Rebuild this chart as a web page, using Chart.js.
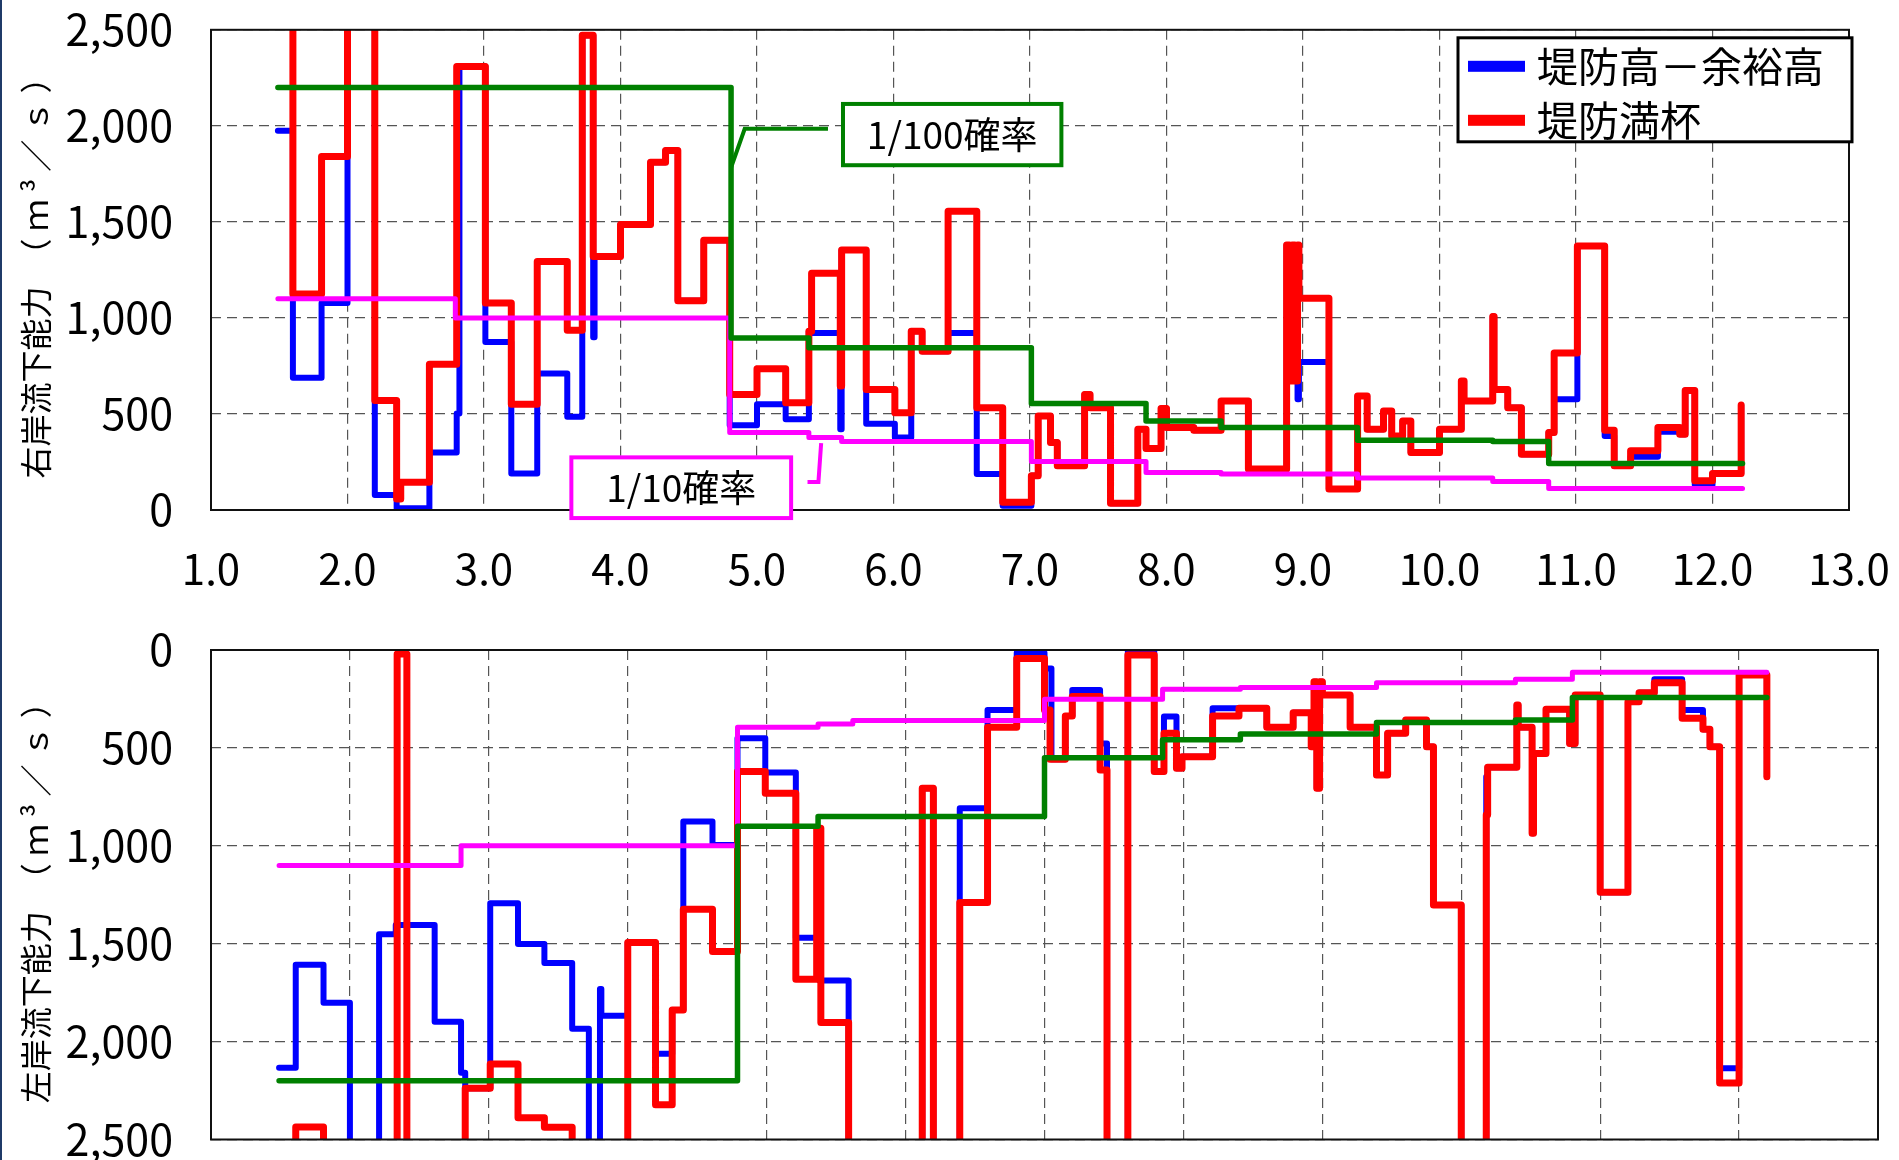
<!DOCTYPE html>
<html lang="ja">
<head>
<meta charset="utf-8">
<title>流下能力図</title>
<script src="https://cdn.jsdelivr.net/npm/chart.js@4.4.1/dist/chart.umd.min.js"></script>
<style>
  html, body { margin: 0; padding: 0; background: #fff; overflow: hidden; }
  body { width: 1899px; height: 1160px; position: relative; }
  #edge { position: absolute; left: 0; top: 0; width: 2px; height: 1160px; background: #1f3a68; z-index: 2; }
  .box { position: absolute; left: 0; width: 1899px; }
  #topBox { top: 0; height: 620px; }
  #bottomBox { top: 620px; height: 560px; }
</style>
</head>
<body>
<div id="edge"></div>
<div class="box" id="topBox"><canvas id="topChart"></canvas></div>
<div class="box" id="bottomBox"><canvas id="bottomChart"></canvas></div>
<script>
// 距離標(km)ごとの流下能力(m3/s)。値は次の距離標まで続く階段。2700 は軸の外
const rightRedX = [1.49,1.60,1.81,2.00,2.20,2.36,2.39,2.60,2.80,3.01,3.20,3.39,3.61,3.72,3.80,4.00,4.22,4.33,4.42,4.61,4.80,5.00,5.21,5.38,5.40,5.61,5.62,5.80,6.01,6.13,6.21,6.40,6.61,6.80,7.01,7.06,7.15,7.20,7.40,7.44,7.59,7.79,7.85,7.96,8.00,8.20,8.40,8.60,8.88,8.90,8.92,8.94,8.96,8.97,9.19,9.40,9.47,9.59,9.65,9.73,9.79,10.00,10.16,10.18,10.39,10.40,10.50,10.60,10.80,10.84,11.01,11.21,11.28,11.40,11.60,11.76,11.80,11.87,12.00,12.21];
const rightRedY = [2700,1125,1840,2700,570,57,144,759,2309,1078,551,1294,936,2472,1320,1486,1811,1872,1089,1405,601,735,558,930,1232,645,1353,627,506,930,826,1555,532,40,178,489,351,230,601,532,35,420,320,529,429,415,567,213,1379,671,1379,671,1379,1103,109,593,420,515,385,463,299,420,671,567,1008,627,532,290,403,818,1374,415,230,308,429,394,622,152,190,546];

const rightBlueX = [1.49,1.60,1.81,2.00,2.20,2.36,2.60,2.80,2.82,3.01,3.20,3.39,3.61,3.72,3.80,3.81,4.00,4.22,4.33,4.42,4.61,4.80,5.00,5.21,5.38,5.40,5.61,5.62,5.80,6.01,6.13,6.21,6.40,6.61,6.80,7.01,7.06,7.15,7.20,7.40,7.44,7.59,7.79,7.85,7.96,8.00,8.20,8.40,8.60,8.88,8.90,8.92,8.94,8.96,8.97,9.19,9.40,9.47,9.59,9.65,9.73,9.79,10.00,10.16,10.18,10.39,10.40,10.50,10.60,10.80,10.84,11.01,11.21,11.28,11.40,11.60,11.76,11.80,11.87,12.00,12.21];
const rightBlueY = [1975,688,1078,2700,78,9,300,502,2309,875,190,710,485,2472,900,1320,1486,1811,1872,1089,1405,441,550,472,930,921,420,1353,449,377,930,826,921,187,22,178,489,351,230,601,532,35,420,320,529,429,415,567,213,1379,671,1379,671,576,771,109,593,420,515,385,463,299,420,671,567,1008,627,532,290,403,576,1374,385,230,277,408,394,622,131,190,546];

const rightP100X = [1.49,4.81,5.38,7.01,7.85,8.40,9.40,10.39,10.80,12.22];
const rightP100Y = [2200,895,845,555,463,430,363,356,242,242];
const rightP10X = [1.49,2.79,4.80,5.38,5.62,7.01,7.85,8.40,9.40,10.39,10.80,12.22];
const rightP10Y = [1100,1000,403,377,356,252,195,187,166,149,112,112];

const leftRedX = [1.49,1.61,1.81,2.34,2.41,2.83,3.01,3.21,3.40,3.60,4.00,4.20,4.32,4.40,4.61,4.79,4.99,5.21,5.36,5.39,5.59,6.12,6.20,6.39,6.59,6.80,7.00,7.04,7.15,7.20,7.40,7.45,7.60,7.79,7.86,7.95,7.99,8.21,8.40,8.60,8.79,8.92,8.94,8.96,8.98,9.00,9.20,9.39,9.47,9.60,9.75,9.80,10.00,10.18,10.19,10.40,10.41,10.51,10.52,10.61,10.78,10.82,11.00,11.20,11.28,11.39,11.59,11.74,11.79,11.86,12.00,12.20];
const leftRedY = [2700,2436,2700,21,2700,2238,2115,2389,2438,2700,1494,2323,1838,1324,1540,621,732,1681,910,1903,2700,706,2700,1290,395,43,306,558,337,238,613,2700,26,621,425,604,545,337,298,395,320,494,162,706,162,230,395,638,425,357,494,1302,2700,842,599,281,395,936,528,303,477,230,1237,264,218,167,349,405,494,2212,128,647];

const leftBlueX = [1.49,1.61,1.81,2.00,2.21,2.33,2.61,2.80,2.83,3.01,3.21,3.40,3.60,3.72,3.80,3.81,4.00,4.20,4.32,4.40,4.61,4.79,4.99,5.21,5.38,5.59,6.12,6.20,6.39,6.59,6.80,7.00,7.05,7.15,7.20,7.40,7.45,7.60,7.79,7.86,7.95,7.99,8.21,8.60,8.79,8.92,8.94,8.96,8.98,9.00,9.20,9.39,9.47,9.60,9.75,9.80,10.00,10.18,10.19,10.40,10.41,10.51,10.52,10.61,10.78,10.82,11.00,11.20,11.28,11.39,11.59,11.74,11.79,11.86,12.00,12.20];
const leftBlueY = [2133,1608,1802,2700,1452,1405,1899,2159,2238,1293,1502,1599,1935,2700,1731,1868,1494,2062,1838,876,996,451,626,1469,1688,2700,706,2700,808,306,14,94,558,337,204,477,2700,5,621,340,604,545,298,395,320,440,162,706,162,230,395,638,425,357,494,1302,2700,647,599,281,395,936,528,303,477,230,1237,264,218,150,306,405,494,2136,128,647];

const leftP100X = [1.49,4.79,5.37,7.00,7.85,8.41,9.39,10.39,10.80,12.20];
const leftP100Y = [2200,900,850,550,459,429,370,357,242,242];
const leftP10X = [1.49,2.80,4.79,5.37,5.62,7.00,7.85,8.41,9.39,10.39,10.80,12.20];
const leftP10Y = [1100,1000,395,378,360,252,201,191,167,150,114,114];

const legendNames = ['堤防高－余裕高', '堤防満杯'];

const FONT = '"Noto Sans CJK JP", "Noto Sans", sans-serif';
const RED = '#ff0000', BLUE = '#0000ff', GREEN = '#008000', PINK = '#ff00ff';

function steps(xs, ys) {
    return xs.map((x, i) => ({ x: x, y: ys[i] }));
}

function series(label, xs, ys, color, width, order) {
    return {
        label, data: steps(xs, ys), borderColor: color, backgroundColor: color,
        borderWidth: width, stepped: true, pointRadius: 0, fill: false, order,
        clip: 0, borderJoinStyle: 'round', borderCapStyle: 'round'
    };
}

// 枠、凡例、確率ラベルを描くプラグイン
const decor = {
    id: 'decor',
    afterDraw(chart, args, opts) {
        const { ctx, chartArea: a } = chart;
        const sx = chart.scales.x, sy = chart.scales.y;
        ctx.save();
        ctx.lineWidth = 2;
        ctx.strokeStyle = '#111';
        ctx.strokeRect(a.left, a.top, a.right - a.left, a.bottom - a.top);

        (opts.notes || []).forEach(n => {
            ctx.strokeStyle = n.color;
            ctx.lineWidth = 4;
            ctx.lineJoin = 'miter';
            ctx.beginPath();
            n.path.forEach((p, i) => {
                const px = sx.getPixelForValue(p[0]), py = sy.getPixelForValue(p[1]);
                if (i === 0) ctx.moveTo(px, py); else ctx.lineTo(px, py);
            });
            ctx.stroke();
            const x0 = sx.getPixelForValue(n.x0), x1 = sx.getPixelForValue(n.x1);
            const y0 = sy.getPixelForValue(n.y0), y1 = sy.getPixelForValue(n.y1);
            ctx.fillStyle = '#fff';
            ctx.fillRect(x0, y0, x1 - x0, y1 - y0);
            ctx.strokeRect(x0, y0, x1 - x0, y1 - y0);
            ctx.fillStyle = '#000';
            ctx.font = '37px ' + FONT;
            ctx.textAlign = 'center';
            ctx.textBaseline = 'middle';
            ctx.fillText(n.text, (x0 + x1) / 2, (y0 + y1) / 2);
        });

        if (opts.legend) {
            const bx = a.right - 391, by = a.top + 8;
            ctx.fillStyle = '#fff';
            ctx.fillRect(bx, by, 394, 104);
            ctx.lineWidth = 3;
            ctx.strokeStyle = '#000';
            ctx.strokeRect(bx, by, 394, 104);
            [BLUE, RED].forEach((c, i) => {
                const cy = a.top + 37 + i * 54;
                ctx.fillStyle = c;
                ctx.fillRect(bx + 10, cy - 6, 57, 11);
                ctx.fillStyle = '#000';
                ctx.font = '41px ' + FONT;
                ctx.textAlign = 'left';
                ctx.textBaseline = 'middle';
                ctx.fillText(legendNames[i], bx + 79, cy);
            });
        }
        ctx.restore();
    }
};

// 目盛線の破線は border.dash、ラベルの位置は透明な tick の長さで調整
function yAxis(title, reverse) {
    return {
        min: 0, max: 2500, reverse,
        ticks: { stepSize: 500, padding: 4, color: '#000', font: { size: 43, family: FONT },
                 callback: v => v.toLocaleString('en-US') },
        grid: { color: '#555', lineWidth: 1.2, drawTicks: true, tickLength: 34, tickColor: 'rgba(0,0,0,0)' },
        border: { display: false, dash: [10, 6] },
        title: { display: true, text: title, color: '#000', font: { size: 32, family: FONT },
                 padding: { top: 17, bottom: 0 } },
        afterFit: s => { s.width = 211; }
    };
}

function xAxis(showLabels, h) {
    return {
        type: 'linear', min: 1, max: 13,
        ticks: { display: showLabels, stepSize: 1, padding: 4, color: '#000', maxRotation: 0,
                 autoSkip: false, font: { size: 42, family: FONT }, callback: v => v.toFixed(1) },
        grid: { color: '#555', lineWidth: 1.2, drawTicks: true, tickLength: 30, tickColor: 'rgba(0,0,0,0)' },
        border: { display: false, dash: [10, 6] },
        afterFit: s => { s.height = h; }
    };
}

function makeChart(id, sets, opts) {
    return new Chart(document.getElementById(id), {
        type: 'line',
        data: {
            datasets: [
                series('1/100確率', sets[4], sets[5], GREEN, 5.5, 1),
                series('1/10確率', sets[6], sets[7], PINK, 5, 2),
                series(legendNames[1], sets[2], sets[3], RED, 7, 3),
                series(legendNames[0], sets[0], sets[1], BLUE, 6, 4)
            ]
        },
        options: {
            responsive: true, maintainAspectRatio: false, animation: false, devicePixelRatio: 1,
            layout: { padding: opts.padding },
            scales: { x: opts.x, y: opts.y },
            plugins: { legend: { display: false }, tooltip: { enabled: false }, decor: opts.decor }
        },
        plugins: [decor]
    });
}

makeChart('topChart',
    [rightBlueX, rightBlueY, rightRedX, rightRedY, rightP100X, rightP100Y, rightP10X, rightP10Y],
    {
        padding: { top: 29, right: 50, left: 0, bottom: 0 },
        x: xAxis(true, 110),
        y: yAxis('右岸流下能力　（ ｍ ³ ／ ｓ ）', false),
        decor: {
            legend: true,
            notes: [
                { text: '1/100確率', color: GREEN, x0: 5.63, x1: 7.23, y0: 2114, y1: 1795,
                  path: [[5.52, 1985], [4.91, 1985], [4.81, 1783]] },
                { text: '1/10確率', color: PINK, x0: 3.64, x1: 5.25, y0: 274, y1: -42,
                  path: [[5.37, 146], [5.45, 146], [5.47, 348]] }
            ]
        }
    });

makeChart('bottomChart',
    [leftBlueX, leftBlueY, leftRedX, leftRedY, leftP100X, leftP100Y, leftP10X, leftP10Y],
    {
        padding: { top: 30, right: 21, left: 0, bottom: 0 },
        x: xAxis(false, 40.5),
        y: yAxis('左岸流下能力　（ ｍ ³ ／ ｓ ）', true),
        decor: { legend: false, notes: [] }
    });
</script>
</body>
</html>
